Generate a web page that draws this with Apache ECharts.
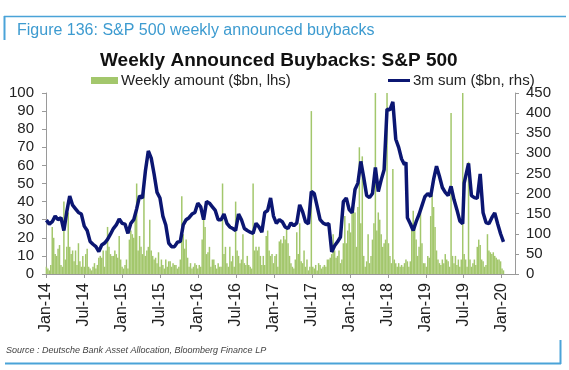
<!DOCTYPE html>
<html><head><meta charset="utf-8">
<script src="https://cdn.jsdelivr.net/npm/echarts@6/dist/echarts.min.js"></script>
<style>html,body{margin:0;padding:0;background:#fff}#c{width:569px;height:370px}</style>
</head><body><div id="c"></div>
<script>
// x tick labels (every 6 months from Jan 2014)
const xTickLabels = ['Jan-14','Jul-14','Jan-15','Jul-15','Jan-16','Jul-16','Jan-17','Jul-17','Jan-18','Jul-18','Jan-19','Jul-19','Jan-20'];
// weekly announced buybacks ($bn, lhs), one value per week starting first week of Jan 2014
const weeklyAmount = [
 4, 3, 2, 5, 26, 20, 11, 10, 14, 16,
 5, 4, 40, 8, 15, 34, 15, 11, 13, 7,
 13, 5, 17, 7, 4, 10, 4, 11, 14, 4,
 3, 2, 4, 6, 3, 5, 9, 10, 9, 13,
 4, 13, 26, 15, 11, 10, 10, 13, 11, 9,
 21, 8, 4, 3, 5, 8, 3, 19, 24, 22,
 20, 34, 50, 13, 21, 15, 11, 46, 10, 13,
 15, 30, 13, 10, 8, 9, 6, 12, 4, 8,
 5, 3, 8, 4, 7, 7, 4, 6, 5, 5,
 3, 4, 8, 43, 22, 14, 19, 9, 4, 6,
 3, 4, 6, 5, 3, 5, 4, 19, 30, 26,
 11, 12, 15, 4, 8, 8, 5, 3, 6, 4,
 4, 50, 11, 15, 6, 4, 15, 7, 10, 4,
 40, 13, 10, 6, 8, 22, 6, 5, 10, 5,
 4, 3, 50, 13, 15, 13, 15, 10, 5, 10,
 5, 21, 24, 13, 10, 11, 6, 10, 11, 4,
 18, 19, 17, 21, 19, 26, 17, 10, 6, 4,
 3, 8, 23, 11, 28, 7, 6, 13, 4, 8,
 2, 4, 90, 4, 3, 5, 2, 6, 5, 3,
 4, 5, 4, 8, 8, 9, 11, 22, 13, 9,
 10, 13, 6, 8, 17, 32, 17, 24, 28, 23,
 34, 38, 34, 15, 37, 70, 28, 65, 10, 4,
 7, 22, 6, 10, 19, 28, 100, 24, 34, 30,
 22, 15, 17, 19, 100, 17, 10, 6, 58, 8,
 6, 4, 6, 4, 5, 4, 6, 8, 7, 4,
 7, 28, 35, 26, 19, 10, 15, 34, 17, 6,
 6, 4, 10, 9, 32, 44, 37, 26, 13, 8,
 6, 5, 8, 6, 11, 8, 7, 4, 89, 10,
 6, 10, 5, 8, 4, 8, 100, 11, 8, 4,
 62, 8, 4, 6, 8, 5, 15, 19, 16, 8,
 7, 4, 5, 22, 13, 12, 11, 12, 10, 9,
 8, 8, 7, 3, 2
];
// 3m sum ($bn, rhs): week index since first week of Jan 2014, and value
const sumWeeks = [0,2,4,6,8,10,12,14,16,18,20,22,24,26,28,30,32,34,36,38,40,42,44,46,48,50,52,54,56,58,60,62,64,66,68,70,72,74,76,78,80,82,84,86,88,90,92,94,96,98,100,102,104,106,108,110,112,114,116,118,120,122,124,126,128,130,132,134,136,138,140,142,144,146,148,150,152,154,156,158,160,162,164,166,168,170,172,174,176,178,180,182,184,186,188,190,192,194,196,198,200,202,204,206,208,210,212,214,216,218,220,222,224,226,228,230,232,233,234,236,238,240,242,244,246,247,248,250,252,254,256,258,260,262,264,266,268,270,272,274,276,278,280,282,284,286,287,288,290,292,294,296,297,298,300,302,304,306,308,310,312,314];
const sumValues = [134,124,130,144,135,140,108,155,194,171,162,153,149,119,108,81,74,68,56,72,77,86,99,113,122,137,126,124,101,126,135,162,194,189,256,306,288,248,203,189,144,122,77,68,68,79,81,122,135,140,149,153,176,167,135,180,176,167,158,135,135,149,126,117,113,108,149,135,113,108,104,101,126,117,104,153,158,189,144,126,135,130,117,113,127,120,127,172,155,130,125,205,200,168,135,127,123,125,55,70,80,92,180,189,160,152,210,226,280,240,195,190,200,265,205,234,259,262,410,408,428,335,315,286,272,278,140,125,108,130,148,170,192,200,193,235,268,243,215,203,195,218,185,160,132,125,226,230,275,195,190,188,185,249,152,128,125,140,152,125,100,80];

const startDay = 2; // first week ends Jan 3 2014
const weekToMonth = w => (startDay + w * 7) / 30.4375;

const chart = echarts.init(document.getElementById('c'), null, {renderer: 'canvas'});
const font = 'Liberation Sans, Arial, sans-serif';
const axisGray = '#9a9a9a';
const navy = '#0b1672';
chart.setOption({
  animation: false,
  backgroundColor: '#fff',
  textStyle: {fontFamily: font},
  title: [
    {text: 'Figure 136: S&P 500 weekly announced buybacks', left: 12, top: 18,
     textStyle: {color: '#3d9bd0', fontSize: 16, fontWeight: 'normal', fontFamily: font}},
    {text: 'Weekly Announced Buybacks: S&P 500', left: 95, top: 46,
     textStyle: {color: '#111', fontSize: 19, fontWeight: 'bold', fontFamily: font}}
  ],
  legend: [
    {data: ['Weekly amount ($bn, lhs)'], left: 86, top: 68, itemWidth: 27, itemHeight: 7, itemGap: 4,
     icon: 'rect', textStyle: {fontSize: 15, color: '#222', fontFamily: font, padding: [0,0,0,-2]}},
    {data: [{name: '3m sum ($bn, rhs)', icon: 'rect', itemStyle: {color: navy}}], left: 383, top: 68,
     itemWidth: 22, itemHeight: 3,
     textStyle: {fontSize: 15, color: '#222', fontFamily: font, padding: [0,0,0,-2]}}
  ],
  grid: {left: 46, right: 54, top: 93, bottom: 96, containLabel: false, outerBoundsMode: 'none'},
  xAxis: {
    type: 'value', min: 0, max: 74.1, interval: 6,
    splitLine: {show: false},
    axisLine: {lineStyle: {color: axisGray, width: 1}},
    axisTick: {show: true, length: 4, lineStyle: {color: axisGray}},
    axisLabel: {rotate: 90, fontSize: 16, color: '#222', margin: 9, fontFamily: font,
      showMaxLabel: false,
      formatter: v => (Math.abs(v % 6) < 1e-6 && v / 6 < xTickLabels.length) ? xTickLabels[Math.round(v / 6)] : ''}
  },
  yAxis: [
    {type: 'value', min: 0, max: 100, interval: 10, splitLine: {show: false},
     axisLine: {show: true, lineStyle: {color: axisGray}},
     axisTick: {show: true, length: 4, lineStyle: {color: axisGray}},
     axisLabel: {fontSize: 15, color: '#222', margin: 12, fontFamily: font}},
    {type: 'value', min: 0, max: 450, interval: 50, splitLine: {show: false},
     axisLine: {show: true, lineStyle: {color: axisGray}},
     axisTick: {show: true, length: 4, lineStyle: {color: axisGray}},
     axisLabel: {fontSize: 15, color: '#222', margin: 11, fontFamily: font}}
  ],
  series: [
    {name: 'Weekly amount ($bn, lhs)', type: 'bar', yAxisIndex: 0, barWidth: 1.5,
     itemStyle: {color: '#a3c76c'},
     data: weeklyAmount.map((v, i) => [weekToMonth(i), v])},
    {name: '3m sum ($bn, rhs)', type: 'line', yAxisIndex: 1, showSymbol: false, symbol: 'none',
     lineStyle: {color: navy, width: 3.5}, itemStyle: {color: navy}, z: 5,
     data: sumWeeks.map((w, i) => [weekToMonth(w), sumValues[i]])}
  ],
  graphic: [
    {type: 'line', shape: {x1: 4, y1: 16.5, x2: 566, y2: 16.5}, style: {stroke: '#4aa3d8', lineWidth: 1.5}},
    {type: 'line', shape: {x1: 4.5, y1: 16, x2: 4.5, y2: 40}, style: {stroke: '#4aa3d8', lineWidth: 2}},
    {type: 'line', shape: {x1: 5, y1: 363.5, x2: 561, y2: 363.5}, style: {stroke: '#4aa3d8', lineWidth: 2}},
    {type: 'line', shape: {x1: 560.5, y1: 340, x2: 560.5, y2: 364}, style: {stroke: '#4aa3d8', lineWidth: 2}},
    {type: 'text', left: 6, top: 346, style: {text: 'Source : Deutsche Bank Asset Allocation, Bloomberg Finance LP',
      font: 'italic 9px ' + font, fill: '#444'}}
  ]
});
</script></body></html>
